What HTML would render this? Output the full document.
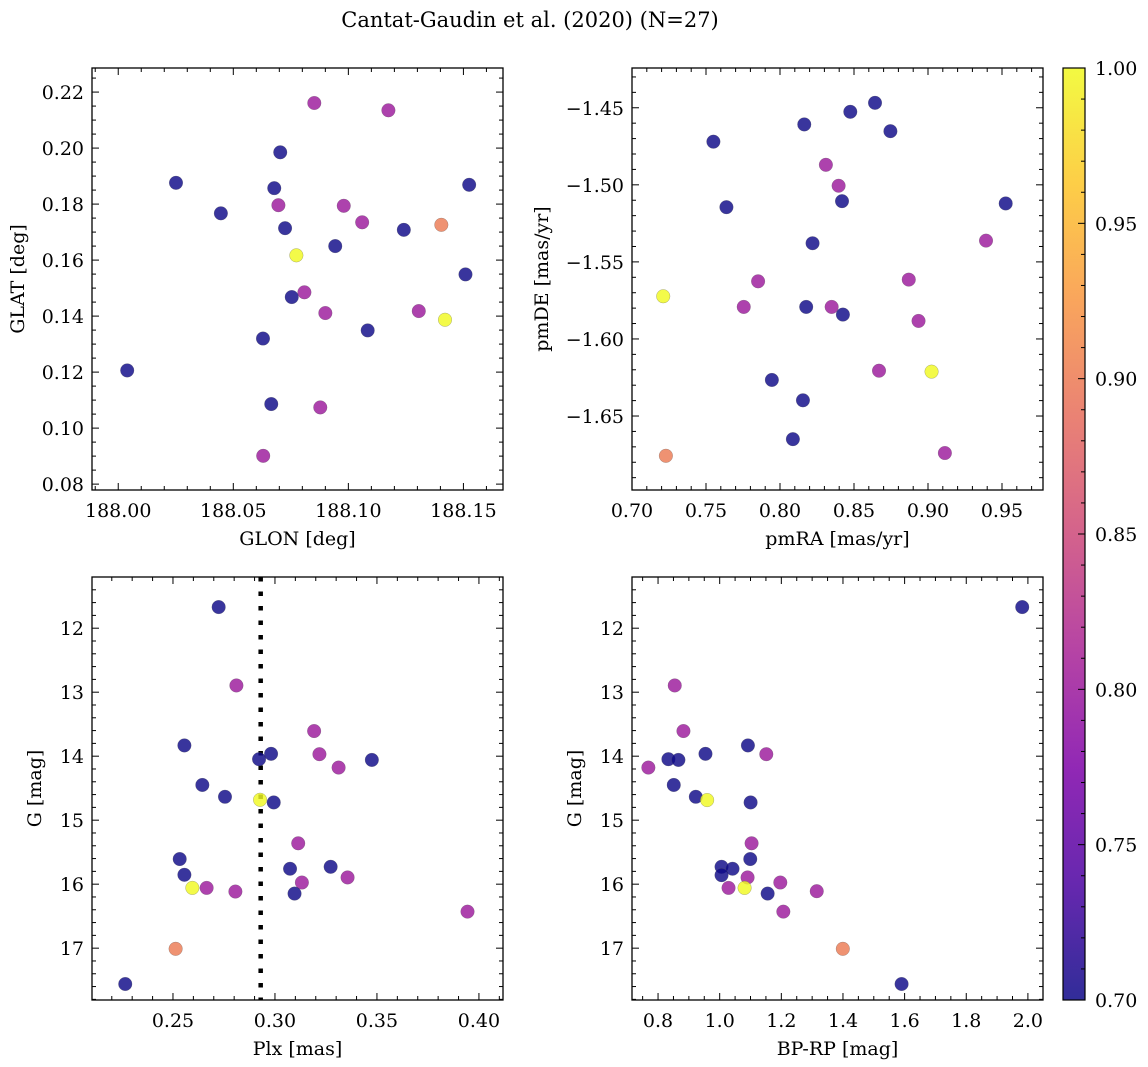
<!DOCTYPE html>
<html><head><meta charset="utf-8"><style>
html,body{margin:0;padding:0;background:#fff;}
svg{display:block;font-family:"DejaVu Serif","Liberation Serif",serif;}
</style></head><body>
<svg id="fig" width="1148" height="1067" viewBox="0 0 1148 1067" xmlns="http://www.w3.org/2000/svg">
<defs><linearGradient id="plasma" x1="0" y1="1" x2="0" y2="0">
<stop offset="0" stop-color="#0d0887"/><stop offset="0.125" stop-color="#4c02a1"/><stop offset="0.25" stop-color="#7e03a8"/><stop offset="0.375" stop-color="#a92395"/><stop offset="0.5" stop-color="#cc4778"/><stop offset="0.625" stop-color="#e66c5c"/><stop offset="0.75" stop-color="#f89540"/><stop offset="0.875" stop-color="#fdc527"/><stop offset="1" stop-color="#f0f921"/>
</linearGradient></defs>
<text x="530" y="27" font-size="21" text-anchor="middle">Cantat-Gaudin et al. (2020) (N=27)</text>
</svg>
<script>
// Panel 1: GLON vs GLAT
const glon1=[188.0852,188.1174,188.0704,188.0251,188.0678,188.1525,188.0696,188.098,188.0446,188.106,188.0725,188.1241,188.1404,188.0943,188.0774,188.1509,188.0809,188.0754,188.09,188.1306,188.142,188.1084,188.0629,188.0039,188.0665,188.0878,188.063];
const glat1=[0.2161,0.2135,0.1985,0.1876,0.1857,0.1869,0.1796,0.1794,0.1767,0.1735,0.1714,0.1708,0.1726,0.165,0.1617,0.1549,0.1485,0.1468,0.1411,0.1418,0.1387,0.1349,0.132,0.1206,0.1086,0.1074,0.0901];
const prob1=[0.8,0.8,0.7,0.7,0.7,0.7,0.8,0.8,0.7,0.8,0.7,0.7,0.9,0.7,1.0,0.7,0.8,0.7,0.8,0.8,1.0,0.7,0.7,0.7,0.7,0.8,0.8];
// Panel 2: pmRA vs pmDE
const pmra2=[0.755,0.8164,0.8475,0.8642,0.8746,0.831,0.8396,0.8419,0.7638,0.9525,0.822,0.9392,0.7852,0.887,0.7211,0.7755,0.8177,0.8349,0.8425,0.8936,0.8669,0.9024,0.7945,0.8155,0.8087,0.7229,0.9114];
const pmde2=[-1.472,-1.4608,-1.4526,-1.4468,-1.4652,-1.487,-1.5006,-1.5106,-1.5145,-1.5121,-1.5379,-1.5362,-1.5626,-1.5615,-1.5723,-1.5792,-1.5792,-1.5792,-1.5842,-1.5883,-1.6206,-1.6212,-1.6266,-1.6398,-1.665,-1.6758,-1.674];
const prob2=[0.7,0.7,0.7,0.7,0.7,0.8,0.8,0.7,0.7,0.7,0.7,0.8,0.8,0.8,1.0,0.8,0.7,0.8,0.7,0.8,0.8,1.0,0.7,0.7,0.7,0.9,0.8];
// Panel 3: Plx vs G
const plx3=[0.2724,0.2811,0.3192,0.2556,0.2981,0.2922,0.3218,0.3475,0.3312,0.2644,0.2755,0.2927,0.2994,0.3114,0.2533,0.3074,0.3273,0.2556,0.3356,0.3132,0.2595,0.2665,0.2806,0.3096,0.3944,0.2513,0.2266];
const g3=[11.67,12.895,13.607,13.832,13.963,14.047,13.969,14.058,14.178,14.45,14.634,14.681,14.723,15.361,15.607,15.759,15.728,15.853,15.895,15.974,16.058,16.058,16.115,16.147,16.429,17.01,17.56];
const prob3=[0.7,0.8,0.8,0.7,0.7,0.7,0.8,0.7,0.8,0.7,0.7,1.0,0.7,0.8,0.7,0.7,0.7,0.7,0.8,0.8,1.0,0.8,0.8,0.7,0.8,0.9,0.7];
const plxMean=[0.293];
// Panel 4: BP-RP vs G
const bprp4=[1.9816,0.8542,0.8824,1.0916,1.1512,0.9539,0.8336,0.8661,0.7686,0.851,0.9225,0.9593,1.1003,1.1035,1.0992,1.006,1.0417,1.006,1.0905,1.1967,1.0287,1.0808,1.1556,1.3149,1.2065,1.3995,1.5902];
const g4=[11.67,12.895,13.607,13.832,13.969,13.963,14.047,14.058,14.178,14.45,14.634,14.686,14.723,15.361,15.607,15.728,15.759,15.859,15.895,15.974,16.058,16.058,16.147,16.11,16.429,17.01,17.56];
const prob4=[0.7,0.8,0.8,0.7,0.8,0.7,0.7,0.7,0.8,0.7,0.7,1.0,0.7,0.8,0.7,0.7,0.7,0.7,0.8,0.8,0.8,1.0,0.7,0.8,0.8,0.9,0.7];
// Tick labels
const xt1=[188.00,188.05,188.10,188.15], yt1=[0.08,0.10,0.12,0.14,0.16,0.18,0.20,0.22];
const xt2=[0.70,0.75,0.80,0.85,0.90,0.95], yt2=[-1.45,-1.50,-1.55,-1.60,-1.65];
const xt3=[0.25,0.30,0.35,0.40], yt3=[12,13,14,15,16,17];
const xt4=[0.8,1.0,1.2,1.4,1.6,1.8,2.0], yt4=[12,13,14,15,16,17];
const cbt=[0.70,0.75,0.80,0.85,0.90,0.95,1.00];

const NS='http://www.w3.org/2000/svg';
const fig=document.getElementById('fig');
const FS=19;
function mk(tag,attrs,parent){const e=document.createElementNS(NS,tag);for(const k in attrs)e.setAttribute(k,attrs[k]);(parent||fig).appendChild(e);return e;}
const stops=[[0,'#0d0887'],[0.125,'#4c02a1'],[0.25,'#7e03a8'],[0.375,'#a92395'],[0.5,'#cc4778'],[0.625,'#e66c5c'],[0.75,'#f89540'],[0.875,'#fdc527'],[1,'#f0f921']];
function hex(h){return [1,3,5].map(i=>parseInt(h.substr(i,2),16));}
function plasma(v){let t=Math.max(0,Math.min(1,(v-0.7)/0.3));for(let i=1;i<stops.length;i++){if(t<=stops[i][0]){const a=stops[i-1],b=stops[i];const f=(t-a[0])/(b[0]-a[0]);const A=hex(a[1]),B=hex(b[1]);return 'rgb('+A.map((c,j)=>Math.round(c+(B[j]-c)*f)).join(',')+')';}}return stops[8][1];}

function panel(o){
  const g=mk('g',{});
  
  
  const sx=v=>o.x0+(v-o.xmin)/(o.xmax-o.xmin)*(o.x1-o.x0);
  const sy=o.inv? v=>o.y0+(v-o.ymin)/(o.ymax-o.ymin)*(o.y1-o.y0) : v=>o.y1-(v-o.ymin)/(o.ymax-o.ymin)*(o.y1-o.y0);
  if(o.vline){const l=mk('line',{x1:sx(o.vline[0]),x2:sx(o.vline[0]),y1:o.y0,y2:o.y1,stroke:'#000','stroke-width':4.5,'stroke-dasharray':'4.5 10'},g);
    
    }
  for(let i=0;i<o.xs.length;i++){const c=mk('circle',{cx:sx(o.xs[i]),cy:sy(o.ys[i]),r:6.8,fill:plasma(o.cs[i]),'fill-opacity':0.82,stroke:'#555','stroke-width':0.4,'stroke-opacity':0.6},g);
    
    }
  const fr=mk('rect',{x:o.x0,y:o.y0,width:o.x1-o.x0,height:o.y1-o.y0,fill:'none',stroke:'#000','stroke-width':1.3},g);
  
  
  const tk=(x1,y1,x2,y2)=>mk('line',{x1,y1,x2,y2,stroke:'#000','stroke-width':1},g);
  const xs0=Math.ceil(o.xmin/o.xmn-1e-6)*o.xmn;
  for(let v=xs0;v<=o.xmax+1e-9;v+=o.xmn){const x=sx(v);const maj=Math.abs(v/o.xmj-Math.round(v/o.xmj))<1e-4;const L=maj?7:4;tk(x,o.y1,x,o.y1-L);tk(x,o.y0,x,o.y0+L);}
  const lo=Math.min(o.ymin,o.ymax),hi=Math.max(o.ymin,o.ymax);
  const ys0=Math.ceil(lo/o.ymn-1e-6)*o.ymn;
  for(let v=ys0;v<=hi+1e-9;v+=o.ymn){const y=sy(v);const maj=Math.abs(v/o.ymj-Math.round(v/o.ymj))<1e-4;const L=maj?7:4;tk(o.x0,y,o.x0+L,y);tk(o.x1,y,o.x1-L,y);}
  o.xt.forEach(v=>{const t=mk('text',{x:sx(v),y:o.y1+27,'font-size':FS,'text-anchor':'middle'},g);t.textContent=v.toFixed(o.xd).replace('-','\u2212');
    
    });
  o.yt.forEach(v=>{const t=mk('text',{x:o.x0-8,y:sy(v)+7,'font-size':FS,'text-anchor':'end'},g);t.textContent=v.toFixed(o.yd).replace('-','\u2212');
    
    });
  const xl=mk('text',{x:(o.x0+o.x1)/2,y:o.y1+55,'font-size':FS,'text-anchor':'middle'},g);xl.textContent=o.xlab;
  
  
  const yx=o.ylx, yy=(o.y0+o.y1)/2;
  const yl=mk('text',{x:yx,y:yy,'font-size':FS,'text-anchor':'middle',transform:`rotate(-90 ${yx} ${yy})`},g);yl.textContent=o.ylab;
  
  
}
panel({name:'glon-glat-panel',x0:92,x1:503,y0:68,y1:490,xmin:187.9886,xmax:188.1672,ymin:0.0779,ymax:0.2286,xs:glon1,ys:glat1,cs:prob1,xt:xt1,yt:yt1,xd:2,yd:2,xmj:0.05,xmn:0.01,ymj:0.02,ymn:0.005,xlab:'GLON [deg]',ylab:'GLAT [deg]',ylx:24});
panel({name:'proper-motion-panel',x0:632,x1:1043,y0:68,y1:490,xmin:0.70,xmax:0.9777,ymin:-1.698,ymax:-1.4242,xs:pmra2,ys:pmde2,cs:prob2,xt:xt2,yt:yt2,xd:2,yd:2,xmj:0.05,xmn:0.01,ymj:0.05,ymn:0.01,xlab:'pmRA [mas/yr]',ylab:'pmDE [mas/yr]',ylx:548});
panel({name:'parallax-mag-panel',x0:92,x1:503,y0:577,y1:1000,xmin:0.2103,xmax:0.4118,ymin:11.2,ymax:17.81,inv:true,xs:plx3,ys:g3,cs:prob3,xt:xt3,yt:yt3,xd:2,yd:0,xmj:0.05,xmn:0.01,ymj:1,ymn:0.2,xlab:'Plx [mas]',ylab:'G [mag]',ylx:41,vline:plxMean});
panel({name:'cmd-panel',x0:632,x1:1043,y0:577,y1:1000,xmin:0.7155,xmax:2.049,ymin:11.2,ymax:17.81,inv:true,xs:bprp4,ys:g4,cs:prob4,xt:xt4,yt:yt4,xd:1,yd:0,xmj:0.2,xmn:0.05,ymj:1,ymn:0.2,xlab:'BP-RP [mag]',ylab:'G [mag]',ylx:581});
const cb=mk('g',{});


const cx0=1063,cx1=1085,cy0=68,cy1=1000;
mk('rect',{x:cx0,y:cy0,width:cx1-cx0,height:cy1-cy0,fill:'url(#plasma)','fill-opacity':0.85,stroke:'#000','stroke-width':1.2},cb);
const cby=v=>cy1-(v-0.7)/0.3*(cy1-cy0);
for(let v=0.7;v<=1.0001;v+=0.01){const y=cby(v);const maj=Math.abs(v*20-Math.round(v*20))<1e-4;mk('line',{x1:cx1,x2:cx1-(maj?7:4),y1:y,y2:y,stroke:'#000','stroke-width':1},cb);}
cbt.forEach(v=>{const t=mk('text',{x:cx1+10,y:cby(v)+7,'font-size':FS},cb);t.textContent=v.toFixed(2);
  
  });
</script>
</body></html>
